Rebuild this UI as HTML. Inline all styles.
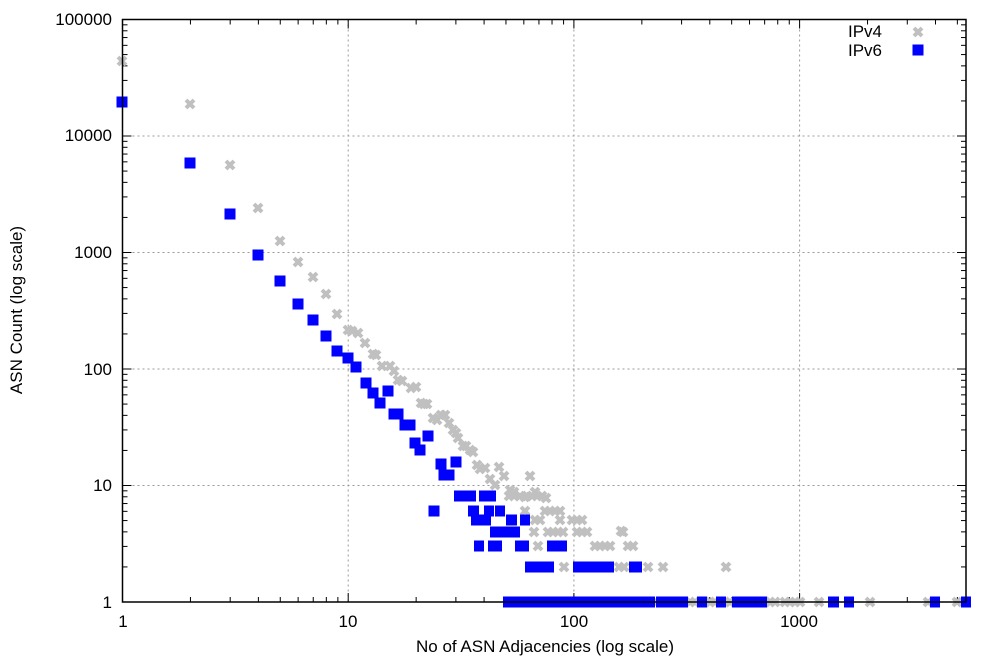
<!DOCTYPE html>
<html><head><meta charset="utf-8"><style>
html,body{margin:0;padding:0;background:#fff;}
svg{display:block;font-family:"Liberation Sans",Arial,sans-serif;}
</style></head><body>
<svg id="s" width="1000" height="660" viewBox="0 0 1000 660" xmlns="http://www.w3.org/2000/svg">
<rect width="1000" height="660" fill="#fff"/>
<g id="grid" stroke="#999" stroke-width="1" stroke-dasharray="2,3"></g>
<g id="ticks" stroke="#000" stroke-width="1"></g>
<g id="gray"></g>
<g id="blue" fill="#0000ff"></g>
<rect x="122.5" y="19.5" width="843.5" height="582.5" fill="none" stroke="#000" stroke-width="1.5"/>
<g font-size="17" fill="#000" text-anchor="end">
<text x="112" y="25">100000</text>
<text x="112" y="141">10000</text>
<text x="112" y="258">1000</text>
<text x="112" y="375">100</text>
<text x="112" y="491">10</text>
<text x="112" y="608">1</text>
</g>
<g font-size="17" fill="#000" text-anchor="middle">
<text x="123" y="627">1</text>
<text x="348" y="627">10</text>
<text x="574" y="627">100</text>
<text x="799" y="627">1000</text>
<text x="545" y="652">No of ASN Adjacencies (log scale)</text>
<text transform="translate(22,310) rotate(-90)">ASN Count (log scale)</text>
</g>
<g font-size="17" fill="#000" text-anchor="end">
<text x="882" y="37">IPv4</text>
<text x="882" y="56">IPv6</text>
</g>
</svg>
<script>
var NS="http://www.w3.org/2000/svg";
function el(p,t,a){var e=document.createElementNS(NS,t);for(var k in a)e.setAttribute(k,a[k]);p.appendChild(e);return e;}
var L=122.5,R=966,T=19.5,B=602,DX=225.7,DY=116.5;
var grid=document.getElementById('grid'),ticks=document.getElementById('ticks');
[1,2,3].forEach(function(d){var x=L+d*DX;el(grid,'line',{x1:x,y1:T,x2:x,y2:B});});
[1,2,3,4].forEach(function(d){var y=B-d*DY;el(grid,'line',{x1:L,y1:y,x2:R,y2:y});});
for(var d=0;d<4;d++)for(var m=1;m<10;m++){var x=L+(d+Math.log10(m))*DX;if(x>R)break;var len=m==1?9:5;
el(ticks,'line',{x1:x,y1:B,x2:x,y2:B-len});el(ticks,'line',{x1:x,y1:T,x2:x,y2:T+len});}
for(var d=0;d<5;d++)for(var m=1;m<10;m++){var y=B-(d+Math.log10(m))*DY;var len=m==1?9:5;
el(ticks,'line',{x1:L,y1:y,x2:L+len,y2:y});el(ticks,'line',{x1:R,y1:y,x2:R-len,y2:y});}
var gray=document.getElementById('gray'),blue=document.getElementById('blue');
function X(x,y){el(gray,'path',{d:'M'+(x-4)+' '+(y-4)+'L'+(x+4)+' '+(y+4)+'M'+(x+4)+' '+(y-4)+'L'+(x-4)+' '+(y+4),stroke:'#c0c0c0','stroke-width':4,fill:'none'});}
function S(x,y){el(blue,'rect',{x:x-5.5,y:y-5.5,width:11,height:11});}
function Xr(a,b,y){for(var x=a+5;x<=b-4;x+=5)X(x,y);}
function Sr(a,b,y){el(blue,'rect',{x:a,y:y-5.5,width:b-a,height:11});}
var g=[[122,61],[190,104],[230,165],[258,208],[280,241],[298,262],[313,277],[326,294],[337,314],[348,330],[352,331],[358,333],[365,343],[373,354],[376,355],[382,366],[390,366],[394,371],[398,380],[402,381],[411,388],[416,387],[421,403],[424,404],[427,404],[433,418],[437,420],[441,415],[445,415],[449,423],[453,430],[456,433],[458,438],[463,446],[466,446],[470,450],[473,452],[477,465],[480,469],[485,468],[490,479],[495,485],[499,467],[504,476],[510,490],[514,492],[520,496],[525,497],[530,476],[535,492],[542,496],[546,498],[726,567],[621,531],[819,602],[870,602],[928,602],[957,602]];
g.forEach(function(p){X(p[0],p[1]);});
[[504,520,496],[522,542,496],[520,530,511],[540,564,511],[530,545,520],[555,565,520],[567,586,520],[520,525,532],[529,539,532],[543,568,532],[572,594,532],[618,628,532],[533,544,546],[567,575,546],[590,617,546],[623,639,546],[559,569,567],[614,629,567],[643,655,567],[658,668,567],[540,780,602],[780,806,602]].forEach(function(r){Xr(r[0],r[1],r[2]);});
var b=[[122,102],[190,163],[230,214],[258,255],[280,281],[298,304],[313,320],[326,336],[337,351],[348,358],[356,367],[366,383],[373,393],[380,403],[388,391],[394,414],[398,414],[405,425],[410,425],[415,443],[420,450],[428,436],[434,511],[441,464],[456,462],[449,475],[444,475]];
b.forEach(function(p){S(p[0],p[1]);});
[[454,476,496],[479,496,496],[468,479,511],[484,494,511],[495,505,511],[471,491,520],[506,517,520],[520,530,520],[490,520,532],[474,484,546],[488,502,546],[515,529,546],[547,567,546],[525,554,567],[573,614,567],[629,642,567],[503,655,602],[656,688,602],[697,707,602],[716,726,602],[732,767,602],[828,839,602],[844,854,602],[930,940,602],[961,971,602]].forEach(function(r){Sr(r[0],r[1],r[2]);});
X(918,32);S(918,50);
</script>
</body></html>
